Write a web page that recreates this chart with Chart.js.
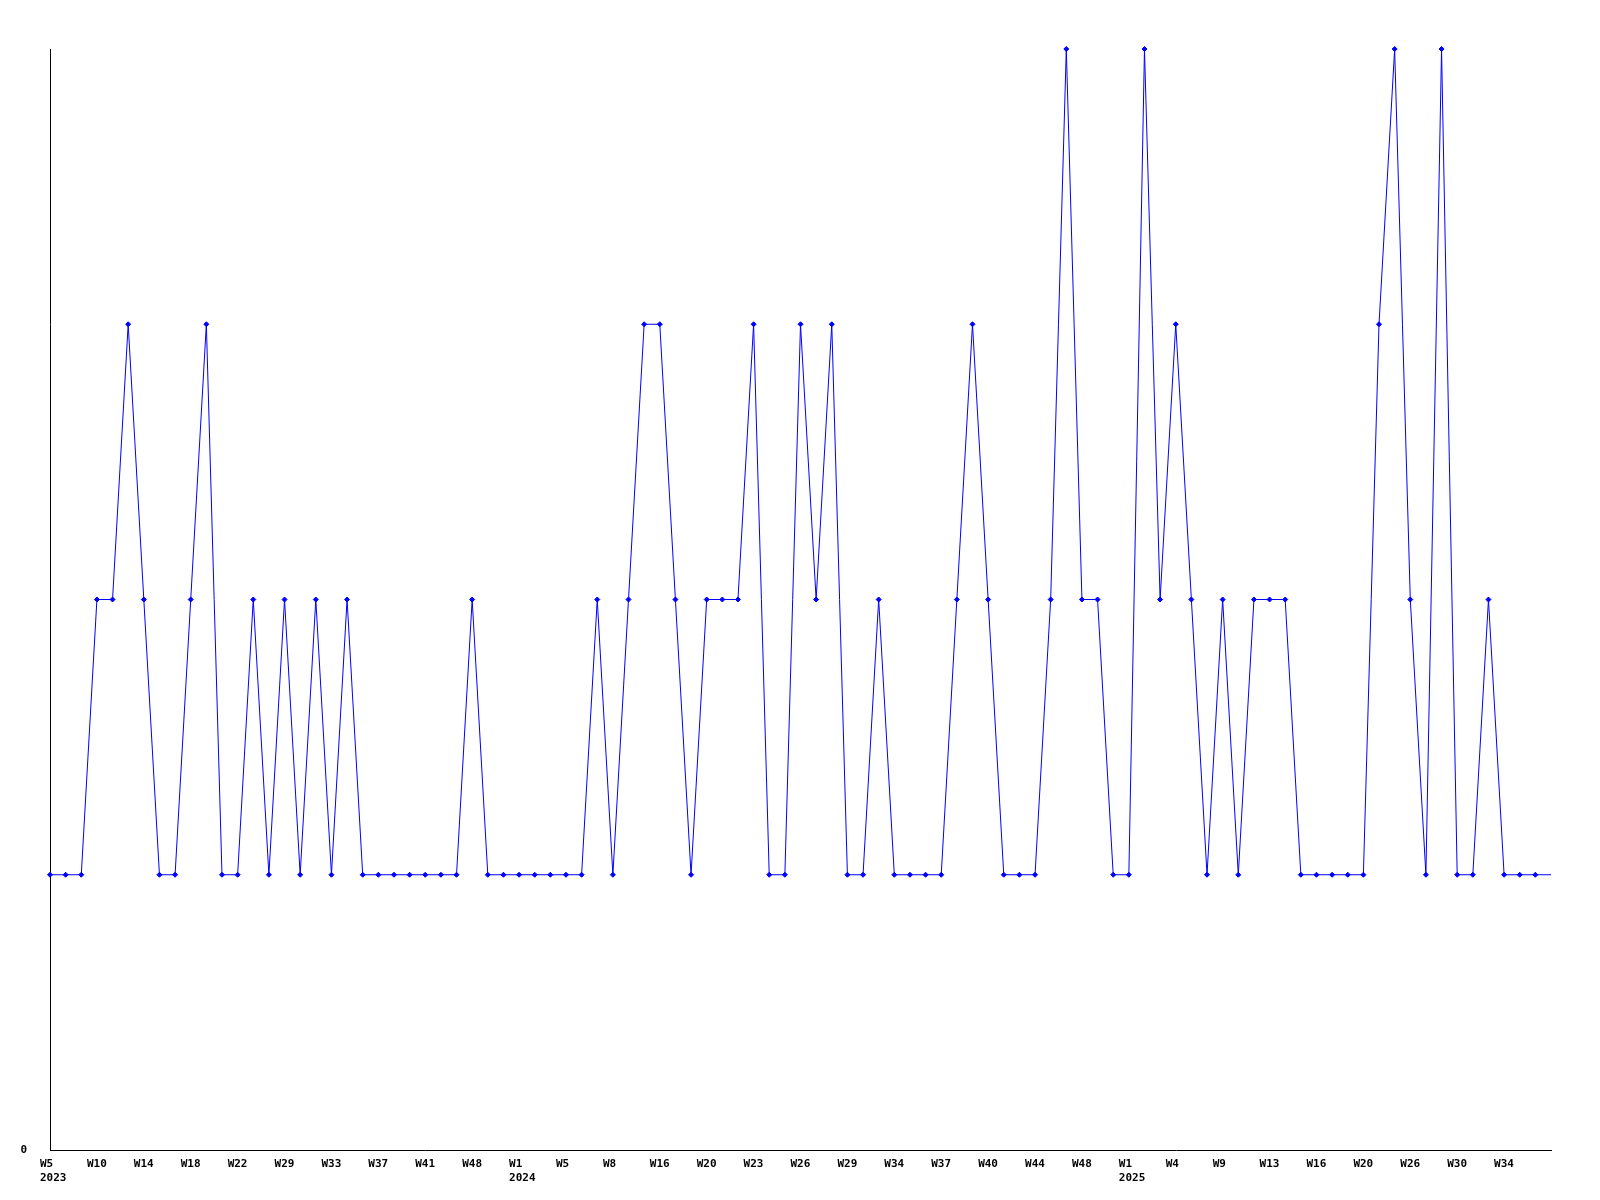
<!DOCTYPE html>
<html>
<head>
<meta charset="utf-8">
<script src="https://cdn.jsdelivr.net/npm/chart.js@4"></script>
<style>
  html, body { margin: 0; padding: 0; background: #fff; }
  #wrap { width: 1600px; height: 1200px; }
</style>
</head>
<body>
<div id="wrap"><canvas id="chart" width="1600" height="1200"></canvas></div>
<script>
// tick labels, one every 3 points
const tickLabels = ['W5','W10','W14','W18','W22','W29','W33','W37','W41','W48',
  'W1','W5','W8','W16','W20','W23','W26','W29','W34','W37','W40','W44','W48',
  'W1','W4','W9','W13','W16','W20','W26','W30','W34','']
const yearAt = { 0: '2023', 10: '2024', 23: '2025' }

const values = [1,1,1,2,2,3,2,1,1,2,3,1,1,2,1,2,1,2,1,2,
  1,1,1,1,1,1,1,2,1,1,1,1,1,1,1,2,1,2,3,3,
  2,1,2,2,2,3,1,1,3,2,3,1,1,2,1,1,1,1,2,3,
  2,1,1,1,2,4,2,2,1,1,4,2,3,2,1,2,1,2,2,2,
  1,1,1,1,1,3,4,2,1,4,1,1,2,1,1,1,1]

const categories = values.map((v, i) => 'p' + i)
const radii = values.map((v, i) => i === values.length - 1 ? 0 : 2.5)

const ctx = document.getElementById('chart').getContext('2d')
const font = { family: 'DejaVu Sans Mono', size: 11, weight: 'bold' }

const bgColor = {
  id: 'bgColor',
  beforeDraw: (chart) => {
    const { ctx, width, height } = chart
    ctx.save()
    ctx.fillStyle = 'white'
    ctx.fillRect(0, 0, width, height)
    ctx.restore()
  }
}

const myChart = new Chart(ctx, {
  type: 'line',
  data: {
    labels: categories,
    datasets: [{
      data: values,
      borderColor: '#0000ff',
      backgroundColor: '#0000ff',
      borderWidth: 1,
      pointStyle: 'rectRot',
      pointRadius: radii,
      pointBorderWidth: 1,
      tension: 0,
      fill: false,
      clip: false
    }]
  },
  options: {
    responsive: false,
    animation: false,
    layout: { padding: { top: 49, right: 49, left: 0, bottom: 0 } },
    plugins: { legend: { display: false }, tooltip: { enabled: false } },
    scales: {
      x: {
        offset: false,
        grid: { display: false },
        border: { display: true, color: '#000', width: 1 },
        ticks: {
          autoSkip: false,
          maxRotation: 0,
          minRotation: 0,
          padding: 0,
          align: 'start',
          labelOffset: -10,
          color: '#000',
          font: font,
          callback: function (val, i) {
            if (i % 3 !== 0) return null
            const k = i / 3
            const lab = tickLabels[k]
            if (!lab) return null
            return yearAt[k] ? [lab, yearAt[k]] : lab
          }
        },
        afterFit: (scale) => { scale.height = 50 }
      },
      y: {
        min: 0,
        max: 4,
        grid: { display: false },
        border: { display: true, color: '#000', width: 1 },
        ticks: {
          stepSize: 1,
          color: '#000',
          font: font,
          padding: 15,
          callback: (v) => v === 0 ? '0' : null
        },
        afterFit: (scale) => { scale.width = 50 }
      }
    }
  },
  plugins: [bgColor]
})
</script>
</body>
</html>
